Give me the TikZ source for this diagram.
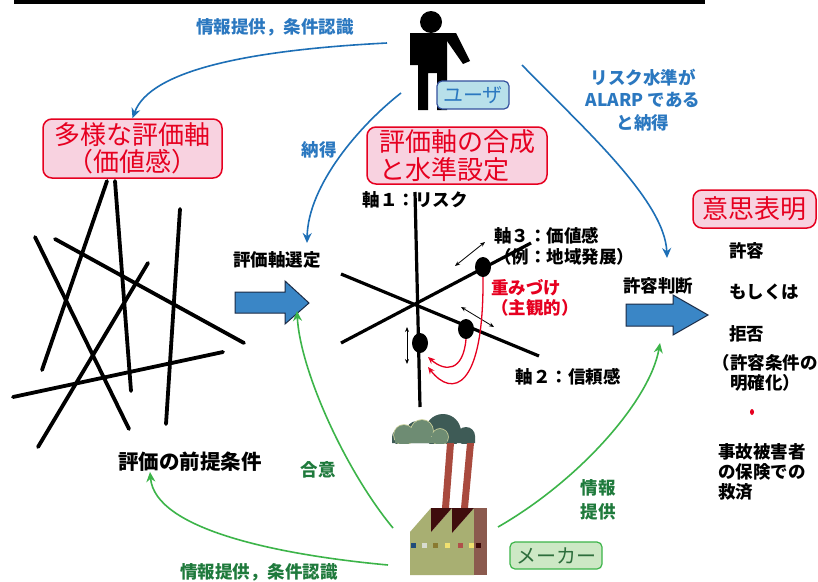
\documentclass[tikz,border=0pt]{standalone}
\usepackage{fontspec}
\setmainfont{Noto Sans CJK JP}
\usetikzlibrary{arrows.meta,shapes.geometric}
\definecolor{usrblue}{HTML}{1D6FB6}
\definecolor{lblblue}{HTML}{2B78C0}
\definecolor{mkrgreen}{HTML}{3CB449}
\definecolor{lblgreen}{HTML}{1F7A3C}
\definecolor{boxred}{HTML}{E60020}
\definecolor{boxpink}{HTML}{F8D2E0}
\definecolor{arrblue}{HTML}{3A86C6}
\definecolor{arrdark}{HTML}{1B2A44}
\definecolor{usrfill}{HTML}{B8E0EA}
\definecolor{usrdraw}{HTML}{34519E}
\definecolor{mkrfill}{HTML}{CDE8C5}
\definecolor{mkrtext}{HTML}{2D6E3C}
\definecolor{clouddark}{HTML}{3E5B56}
\definecolor{cloudlight}{HTML}{6E8C73}
\definecolor{cloudrim}{HTML}{C9CF9A}
\definecolor{chimney}{HTML}{A94A3E}
\definecolor{olive}{HTML}{A8AF72}
\definecolor{roofshade}{HTML}{3F0D0D}
\definecolor{wallbrown}{HTML}{8B5A4E}
\definecolor{win1}{HTML}{1F4B7A}
\definecolor{win2}{HTML}{D8DCD0}
\definecolor{win3}{HTML}{8A7A30}
\definecolor{win4}{HTML}{F0E070}
\definecolor{win5}{HTML}{B0504A}
\definecolor{win6}{HTML}{3A0808}
\newcommand{\lblfont}{\fontsize{17.5}{21}\selectfont\bfseries}
\begin{document}
\begin{tikzpicture}[x=1pt,y=-1pt,>={Stealth[length=10pt,width=9pt]},
  titlebox/.style={draw=boxred,fill=boxpink,text=boxred,line width=1.5pt,rounded corners=9pt,inner sep=0pt,font=\fontsize{26}{27.5}\selectfont},
  rolebox/.style={line width=1.2pt,rounded corners=5pt,inner sep=0pt,font=\fontsize{20}{22}\selectfont},
  usrlink/.style={->,draw=usrblue,line width=1.6pt},
  mkrlink/.style={->,draw=mkrgreen,line width=1.6pt},
  usrlbl/.style={text=lblblue,font=\lblfont,align=center},
  mkrlbl/.style={text=lblgreen,font=\lblfont,align=center},
  txt/.style={font=\lblfont,inner sep=0pt},
  stroke/.style={line width=3.8pt,line cap=round},
  axisln/.style={line width=3.2pt},
  wdot/.style={ellipse,fill=black,inner sep=0pt,minimum width=16pt,minimum height=20pt},
  slide/.style={<->,>={Stealth[length=5pt,width=4pt]},line width=0.8pt},
  wgt/.style={->,>={Stealth[length=7pt,width=6pt]},draw=boxred,line width=1.3pt},
  bigarrow/.style={fill=arrblue,draw=arrdark,line width=1pt,line join=miter}]

  \useasboundingbox (0,0) rectangle (818,581);
  \fill[white] (0,0) rectangle (818,581);
  \fill (14,0) rectangle (705,4);

  % user figure
  \fill (431,22) circle (11pt);
  \fill (410,33) -- (447,33) -- (447,110) -- (437,110) -- (437,73) -- (428,73)
        -- (428,110) -- (418,110) -- (418,65) -- (410,65) -- cycle;
  \fill (447,33) -- (456,33) -- (470,61) -- (463,64) -- (447,41) -- cycle;
  \node[rolebox,draw=usrdraw,fill=usrfill,text=lblblue,minimum width=72pt,minimum height=28pt] (user) at (473,95) {ユーザ};
  \coordinate (usrW) at (387,43);
  \coordinate (usrS) at (401,93);
  \coordinate (usrE) at (522,65);

  % factory
  \begin{scope}
    \clip (380,400) rectangle (480,443);
    \fill[clouddark] (400,437) circle (8pt) (417,432) circle (11pt)
                     (443,432) circle (18pt) (466,436) circle (9pt)
                     (392,436) rectangle (475,443);
    \draw[cloudrim,line width=1.6pt] (404,435) circle (10pt) (422,431) circle (11pt) (440,437) circle (8pt);
    \fill[cloudlight] (404,435) circle (10pt) (422,431) circle (11pt) (440,437) circle (8pt)
                      (395,437) rectangle (447,443);
  \end{scope}
  \fill[chimney] (447,443) -- (454,443) -- (449,508) -- (442,508) -- cycle;
  \fill[chimney] (467,443) -- (474,443) -- (468,508) -- (461,508) -- cycle;
  \fill[olive] (410,575) -- (410,532) -- (431,508) -- (431,532) -- (452,508)
        -- (452,533) -- (474,508) -- (474,575) -- cycle;
  \fill[roofshade] (431,508) -- (452,508) -- (431,532) -- cycle;
  \fill[roofshade] (452,508) -- (474,508) -- (452,533) -- cycle;
  \fill[wallbrown] (474,508) rectangle (487,575);
  \foreach \wx/\wc in {411/win1,422/win2,433/win3,445/win4,458/win5,469/win4,476/win6}
    \fill[\wc] (\wx,543) rectangle ++(5,5);
  \node[rolebox,draw=mkrgreen,fill=mkrfill,text=mkrtext,minimum width=92pt,minimum height=27pt] (maker) at (556,555.5) {メーカー};
  \coordinate (mkrN) at (393,528);
  \coordinate (mkrW) at (388,565);
  \coordinate (mkrE) at (498,527);

  % title boxes
  \node[titlebox,align=center,minimum width=179pt,minimum height=59pt] (tayo) at (132.5,148.5) {多様な評価軸\\（価値感）};
  \node[titlebox,align=left,minimum width=180pt,minimum height=57pt] (gosei) at (457,155.5) {評価軸の合成\\と水準設定};
  \node[titlebox,minimum width=123pt,minimum height=38pt] (ishi) at (754.5,209) {意思表明};

  % scattered axes
  \draw[stroke] (107,181) -- (42,370);
  \draw[stroke] (115,181) -- (131,391);
  \draw[stroke] (35,237) -- (129,429);
  \draw[stroke] (55,239) -- (244,343);
  \draw[stroke] (148,263) -- (38,447);
  \draw[stroke] (180,209) -- (166,424);
  \draw[stroke] (13,397) -- (223,352);
  \node[txt,font=\fontsize{20.5}{24}\selectfont\bfseries] (zentei) at (190,462) {評価の前提条件};

  % block arrows
  \filldraw[bigarrow] (235,292) -- (285,292) -- (285,281) -- (309,303) -- (285,324)
        -- (285,313) -- (235,313) -- cycle;
  \filldraw[bigarrow] (626,304) -- (673,304) -- (673,295) -- (708,315) -- (673,335)
        -- (673,326) -- (626,326) -- cycle;
  \node[txt] (sentei) at (277,260) {評価軸選定};
  \node[txt] (handan) at (658,286) {許容判断};
  \coordinate (senteiS) at (297,311);
  \coordinate (handanS) at (660,343);
  \coordinate (handanN) at (667,258);
  \coordinate (senteiN) at (307,243);

  % combined axes
  \draw[axisln] (415,192) -- (420,407);
  \draw[axisln] (341,274) -- (539,356);
  \draw[axisln] (341,343) -- (531,243);
  \node[wdot] (w3) at (483,267) {};
  \node[wdot] (w2) at (466,329) {};
  \node[wdot] (w1) at (420,343) {};
  \draw[slide] (455,266) -- (485,242);
  \draw[slide] (461,307) -- (494,327);
  \draw[slide] (407,327) -- (407,364);
  \coordinate (w1a) at (428,367);
  \coordinate (w1b) at (428,357);
  \draw[wgt] (w3.south) .. controls (484,390) and (452,398) .. (w1a);
  \draw[wgt] (w2.south) .. controls (463,372) and (445,372) .. (w1b);
  \node[txt] (ax1) at (415,200) {軸１：リスク};
  \node[txt,align=left,anchor=west] (ax3) at (494,246) {軸３：価値感\\（例：地域発展）};
  \node[txt] (ax2) at (568,377) {軸２：信頼感};
  \node[txt,align=left,anchor=west,text=boxred,font=\fontsize{17.5}{20}\selectfont\bfseries] (omomi) at (491,298) {重みづけ\\（主観的）};

  % answers
  \node[txt,anchor=west] (kyoyo) at (729,251) {許容};
  \node[txt,anchor=west] (moshiku) at (729,292) {もしくは};
  \node[txt,anchor=west] (kyohi) at (729,334) {拒否};
  \node[txt,align=center,font=\fontsize{17.5}{20}\selectfont\bfseries] (joken) at (765,373) {（許容条件の\\明確化）};
  \fill[boxred] (752,412) ellipse (2pt and 3pt);
  \node[txt,align=left,anchor=west,font=\fontsize{17.5}{20}\selectfont\bfseries] (kyusai) at (718,472) {事故被害者\\の保険での\\救済};

  % links
  \draw[usrlink] (usrW) .. controls (250,50) and (150,70) .. (tayo.north);
  \draw[usrlink] (usrS) .. controls (360,125) and (308,185) .. (senteiN);
  \draw[usrlink] (usrE) .. controls (580,125) and (665,200) .. (handanN);
  \draw[mkrlink] (mkrN) .. controls (345,470) and (300,370) .. (senteiS);
  \draw[mkrlink] (mkrW) .. controls (280,555) and (155,530) .. (zentei.south -| 150,0);
  \draw[mkrlink] (mkrE) .. controls (580,480) and (650,400) .. (handanS);

  \node[usrlbl] (infoU) at (275,27) {情報提供，条件認識};
  \node[usrlbl] (nattoku) at (319,150) {納得};
  \node[usrlbl,font=\fontsize{17.5}{22.5}\selectfont\bfseries] (alarp) at (643,100) {リスク水準が\\ALARP である\\と納得};
  \node[mkrlbl] (goi) at (318,470) {合意};
  \node[mkrlbl] (infoM) at (259,572) {情報提供，条件認識};
  \node[mkrlbl,font=\fontsize{17.5}{24}\selectfont\bfseries] (infoR) at (598,500) {情報\\提供};
\end{tikzpicture}
\end{document}
